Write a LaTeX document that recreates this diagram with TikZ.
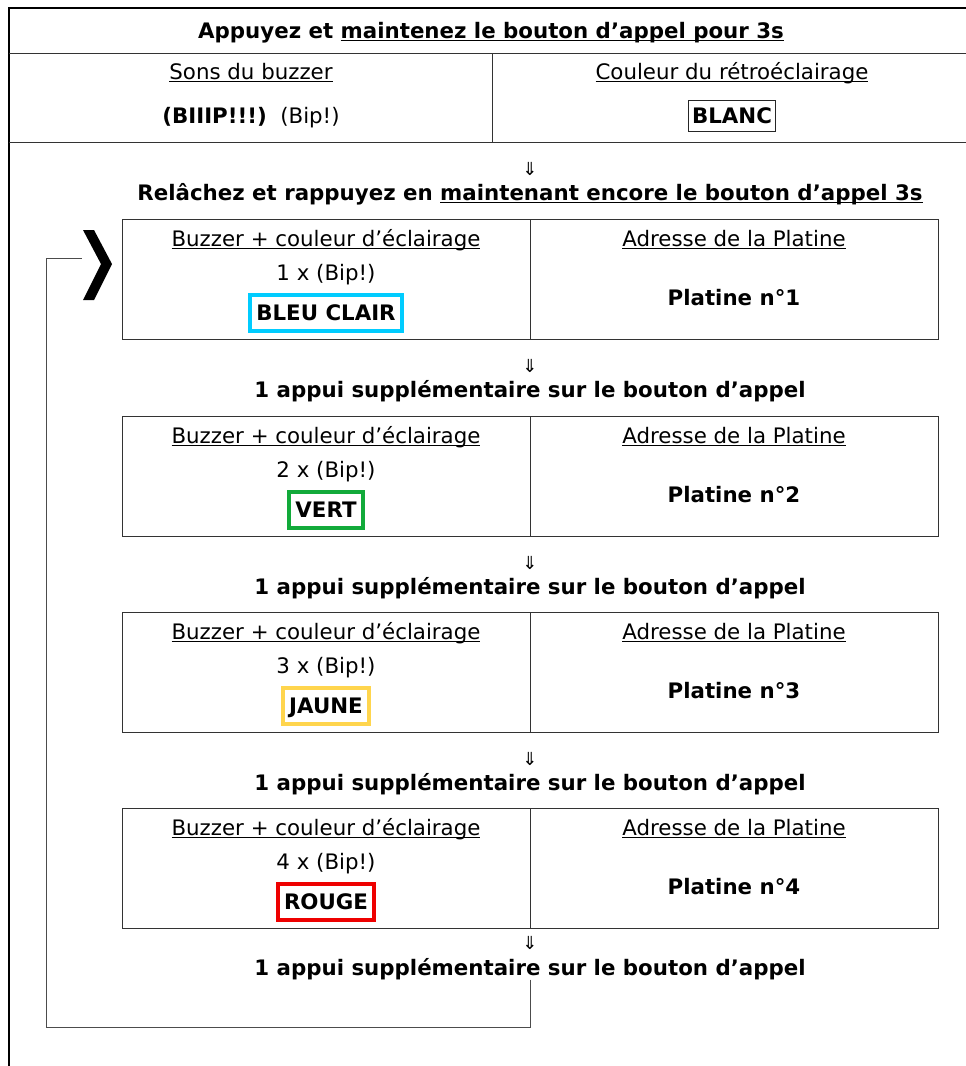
\documentclass[tikz,border=0pt]{standalone}
\usepackage{fontspec}
\setmainfont{DejaVu Sans}
\newcommand\myul[1]{\leavevmode\setbox0\hbox{#1}\rlap{\rule[-2.8pt]{\wd0}{1.2pt}}\box0}
\definecolor{cbleu}{HTML}{00CCFF}
\definecolor{cvert}{HTML}{12AA3A}
\definecolor{cjaune}{HTML}{FFD54D}
\definecolor{crouge}{HTML}{EE0000}
\begin{document}
\begin{tikzpicture}[x=1pt,y=-1pt,
  txt/.style={inner sep=0pt, anchor=base, font=\fontsize{21.33}{25}\selectfont},
  bold/.style={inner sep=0pt, anchor=base, font=\fontsize{21.33}{25}\selectfont\bfseries},
  arr/.style={inner sep=0pt, font=\fontsize{18}{20}\selectfont},
  colbox/.style={draw=#1, line width=4pt, inner xsep=6pt, inner ysep=10.5pt, text height=15.5pt, text depth=0pt, font=\fontsize{21.33}{25}\selectfont\bfseries},
  blancbox/.style={draw=black!85, line width=1.3pt, inner xsep=3.5pt, inner ysep=8pt, text height=15.5pt, text depth=0pt, font=\fontsize{21.33}{25}\selectfont\bfseries},
  stepbox/.style={draw=black!80, line width=1pt, minimum width=816pt, minimum height=120pt, inner sep=0pt, anchor=north west},
  frame/.style={line width=2pt, black},
  rule/.style={line width=1pt, black!80},
  loopline/.style={line width=1pt, black!70}]
\useasboundingbox (0,0) rectangle (966,1066);
% outer frame and header table
\draw[frame] (9,1066) -- (9,8) -- (966,8);
\draw[rule] (9,53) -- (966,53);
\draw[rule] (9,142) -- (966,142);
\draw[rule] (492,53) -- (492,142);
\node[bold] (title) at (491,38) {Appuyez et \myul{maintenez le bouton d’appel pour 3s}};
\node[txt] (sons) at (251,79) {\myul{Sons du buzzer}};
\node[txt] (coul) at (732,79) {\myul{Couleur du rétroéclairage}};
\node[txt] (bip0) at (251,123) {\textbf{(BIIIP!!!)}\ \ (Bip!)};
\node[blancbox] (blanc) at (732,116) {BLANC};
\node[arr] (a0) at (530,169) {⇓};
\node[bold] (relache) at (530,200) {Relâchez et rappuyez en \myul{maintenant encore le bouton d’appel 3s}};
% step boxes
\foreach \T/\n/\c/\lab in {219/1/cbleu/BLEU CLAIR, 416/2/cvert/VERT, 612/3/cjaune/JAUNE, 808/4/crouge/ROUGE}{
  \node[stepbox] (box\n) at (122,\T) {};
  \draw[rule] (box\n.north) -- (box\n.south);
  \node[txt] (buz\n) at (326,{\T+27}) {\myul{Buzzer + couleur d’éclairage}};
  \node[txt] (cnt\n) at (326,{\T+61}) {\n\ x (Bip!)};
  \node[colbox=\c] (col\n) at (326,{\T+94}) {\lab};
  \node[txt] (adr\n) at (734,{\T+27}) {\myul{Adresse de la Platine}};
  \node[bold] (pla\n) at (734,{\T+86}) {Platine n°\n};
}
\foreach \T/\n in {219/1, 416/2, 612/3}{
  \node[arr] (a\n) at (530,{\T+147}) {⇓};
  \node[bold] (s\n) at (530,{\T+178}) {1 appui supplémentaire sur le bouton d’appel};
}
\node[arr] (a4) at (530,943) {⇓};
\node[bold] (s4) at (530,975) {1 appui supplémentaire sur le bouton d’appel};
% chevron and loop back
\fill[black] (83,230) -- (94,230) -- (112,264) -- (94,300) -- (83,300) -- (101,264) -- cycle;
\coordinate (chev) at (82,258);
\draw[loopline] (s4.south) |- (46,1027) |- (chev);
\end{tikzpicture}
\end{document}
